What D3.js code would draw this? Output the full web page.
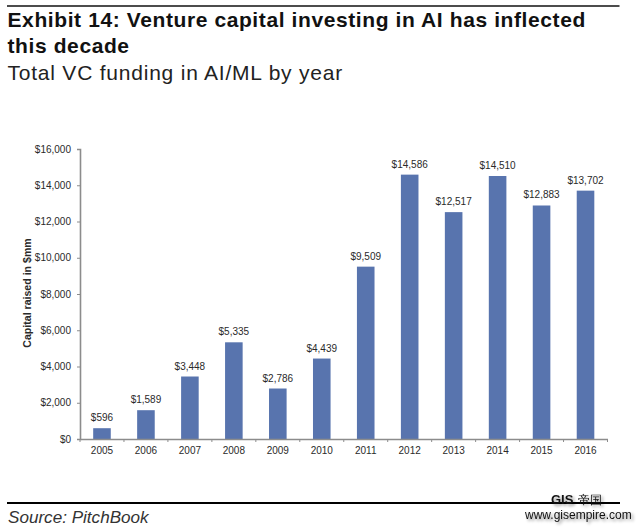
<!DOCTYPE html>
<html><head><meta charset="utf-8">
<script src="https://cdn.jsdelivr.net/npm/d3@7"></script>
<style>html,body{margin:0;background:#fff}svg{display:block}text{font-family:"Liberation Sans",Arial,sans-serif}</style>
</head><body><svg id="c" width="640" height="528"></svg>
<script>
const years=["2005","2006","2007","2008","2009","2010","2011","2012","2013","2014","2015","2016"];
const funding=[596,1589,3448,5335,2786,4439,9509,14586,12517,14510,12883,13702];
const yTicks=[0,2000,4000,6000,8000,10000,12000,14000,16000];
const titleLines=["Exhibit 14: Venture capital investing in AI has inflected","this decade"];
const subtitle="Total VC funding in AI/ML by year";
const source="Source: PitchBook";
const yLabel="Capital raised in $mm";

const svg=d3.select("#c");
const x=d3.scaleBand().domain(years).range([80,607.5]).paddingInner(0.6).paddingOuter(0.3);
const xStep=d3.scaleBand().domain(years).range([80,607.5]);
const y=d3.scaleLinear().domain([0,16000]).range([439,149]);
const fmt=d3.format("$,");
const AX="#8c8c8c",TX="#2a2a2a";

svg.append("line").attr("x1",7).attr("x2",619.5).attr("y1",6).attr("y2",6).attr("stroke","#111").attr("stroke-width",1.6);
svg.append("line").attr("x1",7).attr("x2",620).attr("y1",503).attr("y2",503).attr("stroke","#000").attr("stroke-width",2);

svg.selectAll("text.t").data(titleLines).join("text").attr("class","t")
 .attr("x",7.5).attr("y",(d,i)=>27.3+i*26).attr("font-size",21).attr("letter-spacing",0.6).attr("font-weight",700).attr("fill","#111").text(d=>d);
svg.append("text").attr("x",7.5).attr("y",80).attr("font-size",21).attr("letter-spacing",0.78).attr("fill","#222").text(subtitle);
svg.append("text").attr("x",8).attr("y",523).attr("font-size",17.1).attr("font-style","italic").attr("fill","#333").text(source);

svg.selectAll("rect.b").data(funding).join("rect").attr("class","b")
 .attr("x",(d,i)=>x(years[i])).attr("width",x.bandwidth())
 .attr("y",d=>y(d)).attr("height",d=>y(0)-y(d)).attr("fill","#5874ae");

svg.selectAll("text.v").data(funding).join("text").attr("class","v")
 .attr("x",(d,i)=>x(years[i])+x.bandwidth()/2).attr("y",d=>y(d)-7)
 .attr("text-anchor","middle").attr("font-size",10).attr("fill",TX).text(d=>fmt(d));

const gy=svg.append("g").attr("transform","translate(80,0)")
 .call(d3.axisLeft(y).tickValues(yTicks).tickFormat(fmt).tickSize(3).tickPadding(6));
const gx=svg.append("g").attr("transform","translate(0,439)")
 .call(d3.axisBottom(xStep).tickSize(0).tickPadding(8));
gx.selectAll(".s").data(d3.range(years.length+1)).join("line").attr("class","s")
 .attr("x1",i=>xStep.range()[0]+i*xStep.step()).attr("x2",i=>xStep.range()[0]+i*xStep.step())
 .attr("y1",0).attr("y2",3).attr("stroke",AX);
[gy,gx].forEach(g=>{
 g.selectAll("path").attr("stroke",AX).attr("stroke-width",1.6);
 g.selectAll(".tick line").attr("stroke",AX);
 g.selectAll("text").attr("font-size",10).attr("fill",TX).attr("font-family",'"Liberation Sans",Arial,sans-serif');
});
svg.append("text").attr("transform","translate(31,293) rotate(-90)").attr("text-anchor","middle")
 .attr("font-size",10.6).attr("font-weight",700).attr("fill",TX).text(yLabel);

const wm=svg.append("g").style("filter","drop-shadow(2px 2px 1.5px rgba(0,0,0,0.45))");
wm.append("text").attr("x",551).attr("y",504).attr("font-size",13).attr("font-weight",700).attr("font-family",'"Liberation Serif",serif').attr("fill","#111").text("GIS");
wm.append("text").attr("x",578).attr("y",503.5).attr("font-size",12).attr("font-family",'"Noto Sans CJK SC"').attr("fill","#111").text("帝国");
wm.append("text").attr("x",525).attr("y",519).attr("font-size",12).attr("fill","#111").text("www.gisempire.com");
</script></body></html>
